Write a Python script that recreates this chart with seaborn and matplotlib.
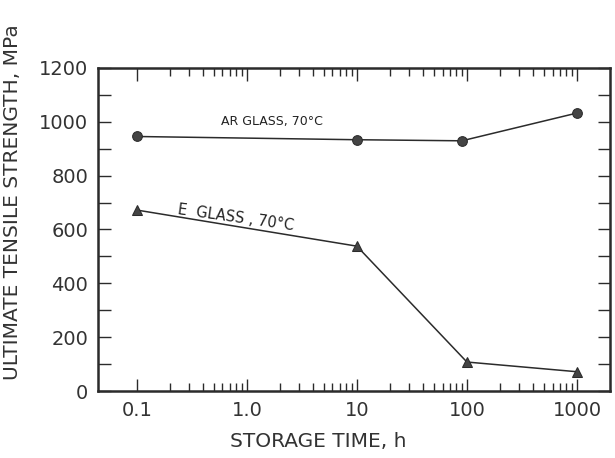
import numpy as np
import pandas as pd
from matplotlib import pyplot as plt
from matplotlib import ticker
import seaborn as sns

# storage time (h) and strength (MPa)
ar_time = [0.1, 10, 90, 1000]
ar_strength = [945, 933, 929, 1032]
e_time = [0.1, 10, 100, 1000]
e_strength = [672, 538, 108, 72]

x_ticks = [0.1, 1, 10, 100, 1000]
x_tick_labels = ["0.1", "1.0", "10", "100", "1000"]
y_ticks = [0, 200, 400, 600, 800, 1000, 1200]

ar = pd.DataFrame({"time": ar_time, "strength": ar_strength})
e = pd.DataFrame({"time": e_time, "strength": e_strength})

sns.set_style("ticks")
plt.rcParams["font.family"] = ["DejaVu Sans"]

fig = plt.figure(figsize=(6.15, 4.58), dpi=100)
ax = fig.add_axes([0.159, 0.146, 0.833, 0.706])

ink = "#2b2b2b"
sns.lineplot(data=ar, x="time", y="strength", ax=ax, color=ink, linewidth=1.1,
             marker="o", markersize=7, markeredgecolor=ink, markerfacecolor="#444444")
sns.lineplot(data=e, x="time", y="strength", ax=ax, color=ink, linewidth=1.1,
             marker="^", markersize=7, markeredgecolor=ink, markerfacecolor="#444444")

ax.set_xscale("log")
ax.set_xlim(0.0442, 2000)
ax.set_ylim(0, 1200)

ax.xaxis.set_major_locator(ticker.FixedLocator(x_ticks))
ax.xaxis.set_major_formatter(ticker.FixedFormatter(x_tick_labels))
minor = [m * 10.0 ** d for d in range(-1, 3) for m in range(2, 10)]
ax.xaxis.set_minor_locator(ticker.FixedLocator(minor))
ax.xaxis.set_minor_formatter(ticker.NullFormatter())
ax.yaxis.set_major_locator(ticker.FixedLocator(y_ticks))
ax.yaxis.set_minor_locator(ticker.MultipleLocator(100))

ax.tick_params(which="both", direction="in", top=True, right=True, color=ink, width=1)
ax.tick_params(which="major", length=9, labelsize=14, labelcolor="#333333", pad=7)
ax.tick_params(axis="x", which="minor", length=6)
ax.tick_params(axis="y", which="minor", length=9)
for s in ax.spines.values():
    s.set_linewidth(1.8)
    s.set_color(ink)

ax.set_xlabel("STORAGE TIME, h", fontsize=14.5, color="#333333")
ax.xaxis.set_label_coords(0.43, -0.125)
ax.set_ylabel("ULTIMATE TENSILE STRENGTH, MPa", fontsize=14.5, color="#333333")
ax.yaxis.set_label_coords(-0.148, 0.585)

ax.text(0.58, 975, "AR GLASS, 70°C", fontsize=9, color="#222222", va="bottom", ha="left")
ax.text(0.23, 648, "E  GLASS , 70°C", fontsize=10.5, color="#222222", va="bottom", ha="left",
        rotation=-8, rotation_mode="anchor")

sns.despine(ax=ax, top=False, right=False)
fig.savefig("out.png", dpi=100)
